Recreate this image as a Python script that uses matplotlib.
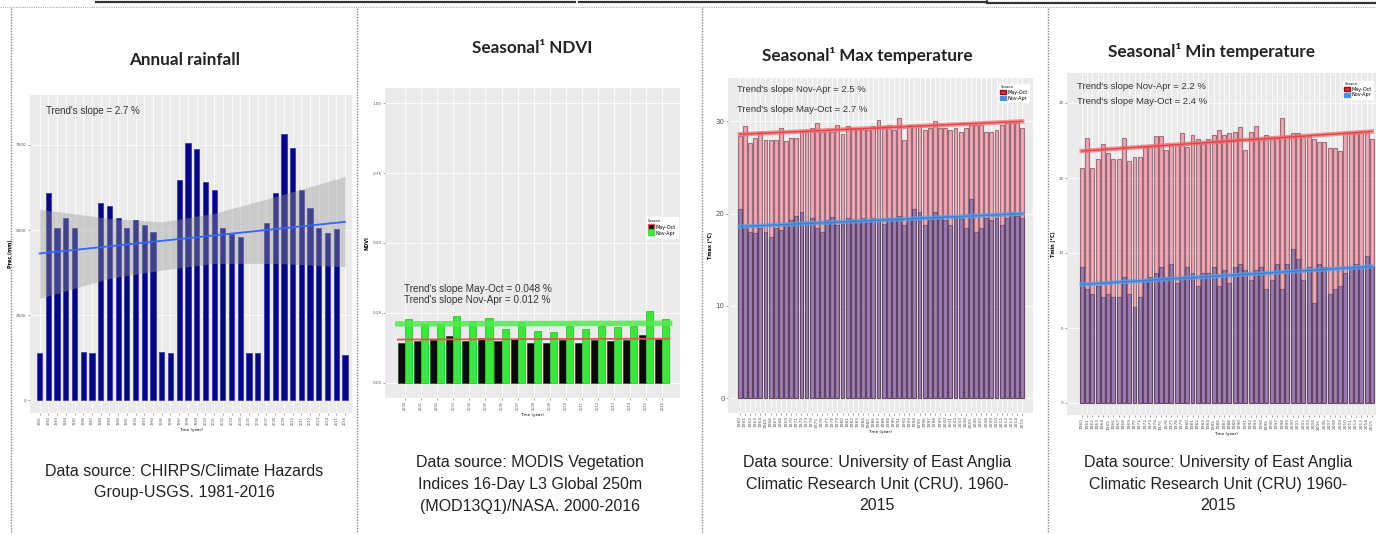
import numpy as np
import matplotlib.pyplot as plt
from matplotlib.lines import Line2D
from matplotlib.patches import Patch

# ---- data ----
rain_years = list(range(1981, 2017))
rain_mm = [1370, 6080, 5070, 5340, 5050, 1420, 1370, 5780, 5700, 5360,
           5070, 5290, 5150, 4950, 1420, 1370, 6470, 7550, 7370, 6420,
           6170, 5070, 4870, 4800, 1370, 1370, 5210, 6100, 7810, 7400,
           6170, 5640, 5070, 4900, 5020, 1320]
rain_trend_x = [0, 35]
rain_trend_y = [4310, 5240]
rain_band_x = [0, 8, 14, 20, 27, 35]
rain_band_hi = [5610, 5340, 5240, 5490, 5980, 6570]
rain_band_lo = [2990, 3580, 3820, 4020, 4020, 3920]

ndvi_years = list(range(2000, 2017))
ndvi_mayoct = [0.142, 0.148, 0.153, 0.167, 0.151, 0.162, 0.151, 0.156, 0.142,
               0.142, 0.153, 0.142, 0.153, 0.151, 0.153, 0.170, 0.156]
ndvi_novapr = [0.227, 0.210, 0.210, 0.239, 0.222, 0.231, 0.193, 0.216, 0.185,
               0.182, 0.205, 0.193, 0.205, 0.199, 0.205, 0.256, 0.227]
ndvi_trend_mayoct = [0.155, 0.158]
ndvi_trend_novapr = [0.211, 0.213]

temp_years = list(range(1960, 2016))
tmax_mayoct = [28.4, 29.5, 27.7, 28.2, 28.9, 28.0, 28.0, 28.0, 29.3, 27.9,
               28.2, 28.2, 28.8, 28.9, 29.3, 29.8, 28.8, 29.1, 28.9, 29.6,
               28.6, 29.5, 29.3, 29.3, 29.3, 29.1, 29.5, 30.2, 29.5, 29.6,
               29.1, 30.4, 28.0, 29.6, 29.5, 29.6, 29.1, 29.3, 30.0, 29.3,
               29.3, 29.1, 29.3, 28.9, 29.3, 29.6, 29.6, 29.6, 28.8, 28.9,
               29.1, 29.6, 29.8, 29.8, 29.8, 29.3]
tmax_novapr = [20.5, 18.4, 18.0, 17.9, 18.4, 18.0, 17.5, 18.4, 18.2, 18.8,
               19.3, 19.8, 20.2, 19.1, 19.5, 18.4, 18.0, 19.3, 19.6, 18.8,
               18.9, 19.5, 19.3, 19.1, 19.5, 19.1, 19.5, 19.3, 18.9, 19.5,
               19.3, 19.8, 18.8, 19.5, 20.5, 20.2, 18.8, 19.3, 20.2, 19.5,
               19.3, 18.8, 19.6, 19.5, 18.4, 21.6, 18.0, 18.4, 19.5, 19.3,
               19.5, 18.8, 19.5, 20.2, 19.8, 19.5]
tmax_trend_mayoct = [28.6, 30.0]
tmax_trend_novapr = [18.6, 20.0]

tmin_mayoct = [15.7, 17.7, 15.7, 16.3, 17.3, 16.7, 16.3, 16.3, 17.7, 16.1,
               16.4, 16.4, 17.1, 17.1, 17.8, 17.8, 16.9, 17.3, 17.3, 18.0,
               17.1, 17.9, 17.6, 17.3, 17.6, 17.9, 18.2, 17.9, 18.0, 18.1,
               18.4, 16.9, 18.1, 18.5, 17.6, 17.9, 17.6, 17.7, 19.0, 17.8,
               18.0, 18.0, 17.8, 17.8, 17.6, 17.4, 17.4, 17.0, 17.0, 16.8,
               18.0, 18.0, 18.0, 18.0, 18.0, 17.6]
tmin_novapr = [9.1, 7.6, 7.3, 7.8, 7.1, 7.3, 7.1, 7.1, 8.4, 7.3,
               6.4, 7.1, 8.2, 8.4, 8.7, 9.1, 8.4, 9.3, 8.0, 8.4,
               9.1, 8.7, 7.8, 8.7, 8.7, 9.1, 7.8, 8.9, 8.0, 9.1,
               9.3, 8.9, 8.2, 8.9, 9.1, 7.6, 8.2, 9.3, 7.6, 9.3,
               10.3, 9.6, 8.2, 9.1, 6.7, 9.3, 9.1, 7.3, 7.6, 7.8,
               8.7, 9.1, 9.3, 9.1, 9.8, 9.1]
tmin_trend_mayoct = [16.8, 18.1]
tmin_trend_novapr = [7.9, 9.1]

captions = [
    ["Data source: CHIRPS/Climate Hazards", "Group-USGS. 1981-2016"],
    ["Data source: MODIS Vegetation", "Indices 16-Day L3 Global 250m",
     "(MOD13Q1)/NASA. 2000-2016"],
    ["Data source: University of East Anglia",
     "Climatic Research Unit (CRU). 1960-", "2015"],
    ["Data source: University of East Anglia",
     "Climatic Research Unit (CRU) 1960-", "2015"],
]

# ---- figure ----
W, H = 1376, 534
fig = plt.figure(figsize=(W / 100, H / 100), dpi=100)
fig.patch.set_facecolor("white")

TITLE_FONT = ["Lato", "DejaVu Sans"]
NARROW = ["Liberation Sans Narrow", "Liberation Sans", "DejaVu Sans"]
CAP_FONT = ["Liberation Sans", "DejaVu Sans"]


def fx(x):
    return x / W


def fy(y):
    return 1 - y / H


def px_axes(x0, y0, x1, y1):
    return fig.add_axes([fx(x0), fy(y1), (x1 - x0) / W, (y1 - y0) / H])


def gg_style(ax, tick_size=3):
    ax.set_facecolor("#ebebeb")
    for s in ax.spines.values():
        s.set_visible(False)
    ax.tick_params(length=1.5, width=0.4, color="#555555", pad=1,
                   labelsize=tick_size, labelcolor="#555555")
    ax.grid(True, color="white", linewidth=0.6)
    ax.set_axisbelow(True)


# frame lines (dotted panel borders and box edges at the top)
for xs in [10.5, 357, 702, 1048]:
    fig.add_artist(Line2D([fx(xs), fx(xs)], [fy(8), fy(534)], color="#888888",
                          lw=1.0, ls=(0, (1, 1)), transform=fig.transFigure))
fig.add_artist(Line2D([0, 1], [fy(7), fy(7)], color="#aaaaaa", lw=0.8,
                      ls=(0, (1, 1)), transform=fig.transFigure))
for xa, xb, yy in [(96, 575, 1.5), (579, 987, 1.5), (987, 1376, 3)]:
    fig.add_artist(Line2D([fx(xa), fx(xb)], [fy(yy), fy(yy)], color="#333333",
                          lw=1.6, transform=fig.transFigure))
fig.add_artist(Line2D([fx(987), fx(987)], [fy(0), fy(3)], color="#333333",
                      lw=1.2, transform=fig.transFigure))

# ---- panel 1: annual rainfall ----
ax1 = px_axes(30, 95, 352, 413)
gg_style(ax1)
x1 = np.arange(len(rain_years))
ax1.bar(x1, rain_mm, width=0.6, color="#07077f", edgecolor="#3030b0",
        linewidth=0.5, zorder=2)
ax1.fill_between(rain_band_x, rain_band_lo, rain_band_hi, color="#999999",
                 alpha=0.4, lw=0, zorder=3)
ax1.plot(rain_trend_x, rain_trend_y, color="#3366ff", lw=1.3, zorder=4)
ax1.set_xlim(-1.1, 35.8)
ax1.set_ylim(-380, 8970)
ax1.set_yticks([0, 2500, 5000, 7500])
ax1.set_xticks(x1)
ax1.set_xticklabels(rain_years, rotation=90, fontsize=2.5)
ax1.set_ylabel("Prec (mm)", fontsize=3.5, fontweight="bold", labelpad=2)
ax1.set_xlabel("Time (year)", fontsize=3, labelpad=2)
ax1.text(0.05, 0.965, "Trend's slope = 2.7 %", transform=ax1.transAxes,
         fontsize=7, family=NARROW, color="#333333", va="top")
fig.text(fx(185), fy(60), "Annual rainfall", ha="center", va="center",
         fontsize=12.3, fontweight="bold", family=TITLE_FONT, color="#222222")

# ---- panel 2: NDVI ----
ax2 = px_axes(385, 88, 680, 398)
gg_style(ax2)
x2 = np.arange(len(ndvi_years))
ax2.bar(x2 - 0.22, ndvi_mayoct, width=0.44, color="#0a0a0a",
        edgecolor="#1f5a1f", linewidth=0.6, zorder=2)
ax2.bar(x2 + 0.22, ndvi_novapr, width=0.44, color="#3ce63c",
        edgecolor="#2cc82c", linewidth=0.6, zorder=2)
ax2.plot([x2[0] - 0.45, x2[-1] + 0.45], ndvi_trend_novapr, color="#55e855",
         lw=4, alpha=0.85, zorder=3)
ax2.plot([x2[0] - 0.45, x2[-1] + 0.45], ndvi_trend_mayoct, color="#e05555",
         lw=1.3, zorder=4)
ax2.set_xlim(-1.25, 17.1)
ax2.set_ylim(-0.054, 1.054)
ax2.set_yticks([0, 0.25, 0.5, 0.75, 1.0])
ax2.set_yticklabels(["0.00", "0.25", "0.50", "0.75", "1.00"])
ax2.set_xticks(x2)
ax2.set_xticklabels(ndvi_years, rotation=90, fontsize=2.5)
ax2.set_ylabel("NDVI", fontsize=3.5, fontweight="bold", labelpad=2)
ax2.set_xlabel("Time (year)", fontsize=3, labelpad=2)
ax2.text(0.065, 0.335, "Trend's slope May-Oct = 0.048 %\nTrend's slope Nov-Apr = 0.012 %",
         transform=ax2.transAxes, fontsize=7.2, family=NARROW,
         color="#333333", va="center", linespacing=1.1)
leg2 = ax2.legend(handles=[Patch(facecolor="#0a0a0a", edgecolor="#e05555", label="May-Oct"),
                           Patch(facecolor="#3ce63c", edgecolor="#3ce63c", label="Nov-Apr")],
                  title="Season", loc="center right", bbox_to_anchor=(1.0, 0.55),
                  fontsize=3.5, title_fontsize=2.5, handlelength=1.2,
                  handleheight=1.2, borderpad=0.4, labelspacing=0.2,
                  handletextpad=0.3, frameon=True, fancybox=False,
                  edgecolor="white", framealpha=1)
leg2._legend_box.align = "left"
fig.text(fx(532), fy(48), "Seasonal¹ NDVI", ha="center", va="center",
         fontsize=12.3, fontweight="bold", family=TITLE_FONT, color="#222222")


# ---- panels 3 and 4: temperature ----
def temp_panel(ax, red_vals, blue_vals, red_trend, blue_trend):
    gg_style(ax)
    xt = np.arange(len(temp_years))
    ax.bar(xt, red_vals, width=0.75, color="#ec6a80", alpha=0.55,
           edgecolor="#5a2a3a", linewidth=0.8, zorder=2)
    ax.bar(xt, blue_vals, width=0.75, color="#3a4aa8", alpha=0.45,
           edgecolor="#3a2048", linewidth=0.8, zorder=2)
    ends = [xt[0], xt[-1]]
    ax.plot(ends, red_trend, color="#f07070", lw=3.2, alpha=0.75, zorder=3)
    ax.plot(ends, red_trend, color="#e8404a", lw=1.0, zorder=4)
    ax.plot(ends, blue_trend, color="#5aa0e8", lw=3.2, alpha=0.75, zorder=3)
    ax.plot(ends, blue_trend, color="#3a80d8", lw=1.0, zorder=4)
    ax.set_xticks(xt)
    ax.set_xticklabels(temp_years, rotation=90, fontsize=3.2)
    ax.set_xlabel("Time (year)", fontsize=3, labelpad=2)


def temp_legend(ax, x, y):
    leg = ax.legend(handles=[Patch(facecolor="#e0303f", edgecolor="#8a1020", label="May-Oct"),
                             Patch(facecolor="#4a90e0", edgecolor="#4a90e0", label="Nov-Apr")],
                    title="Season", loc="upper left", bbox_to_anchor=(x, y),
                    fontsize=3.5, title_fontsize=2.5, handlelength=1.2,
                    handleheight=1.0, borderpad=0.3, labelspacing=0.15,
                    handletextpad=0.3, frameon=True, fancybox=False,
                    edgecolor="white", framealpha=1)
    leg._legend_box.align = "left"


ax3 = px_axes(728, 78, 1033, 413)
temp_panel(ax3, tmax_mayoct, tmax_novapr, tmax_trend_mayoct, tmax_trend_novapr)
ax3.set_xlim(-2.3, 57.1)
ax3.set_ylim(-1.6, 34.7)
ax3.set_yticks([0, 10, 20, 30])
ax3.tick_params(axis="y", labelsize=5)
ax3.set_ylabel("Tmax (°C)", fontsize=3.5, fontweight="bold", labelpad=2)
ax3.text(0.03, 0.978, "Trend's slope Nov-Apr = 2.5 %", transform=ax3.transAxes,
         fontsize=6.8, family=NARROW, color="#333333", va="top")
ax3.text(0.03, 0.92, "Trend's slope May-Oct = 2.7 %", transform=ax3.transAxes,
         fontsize=6.8, family=NARROW, color="#333333", va="top")
temp_legend(ax3, 0.88, 0.99)
fig.text(fx(867), fy(55), "Seasonal¹ Max temperature", ha="center", va="center",
         fontsize=12.3, fontweight="bold", family=TITLE_FONT, color="#222222")

ax4 = px_axes(1067, 73, 1385, 415)
temp_panel(ax4, tmin_mayoct, tmin_novapr, tmin_trend_mayoct, tmin_trend_novapr)
ax4.set_xlim(-2.8, 57.5)
ax4.set_ylim(-0.8, 22)
ax4.set_yticks([0, 5, 10, 15, 20])
ax4.set_ylabel("Tmin (°C)", fontsize=3.5, fontweight="bold", labelpad=2)
ax4.text(0.03, 0.975, "Trend's slope Nov-Apr = 2.2 %", transform=ax4.transAxes,
         fontsize=6.8, family=NARROW, color="#333333", va="top")
ax4.text(0.03, 0.93, "Trend's slope May-Oct = 2.4 %", transform=ax4.transAxes,
         fontsize=6.8, family=NARROW, color="#333333", va="top")
temp_legend(ax4, 0.86, 0.985)
fig.text(fx(1212), fy(52), "Seasonal¹ Min temperature", ha="center", va="center",
         fontsize=12.3, fontweight="bold", family=TITLE_FONT, color="#222222")

# ---- captions ----
cap_pos = [(184, [471, 493]), (530, [462, 484, 506]),
           (877, [463, 485, 506]), (1218, [463, 485, 506])]
for lines, (cx, ys) in zip(captions, cap_pos):
    for line, yy in zip(lines, ys):
        fig.text(fx(cx), fy(yy), line, ha="center", va="center",
                 fontsize=11.5, family=CAP_FONT, color="#222222")

fig.savefig("out.png", dpi=100)
